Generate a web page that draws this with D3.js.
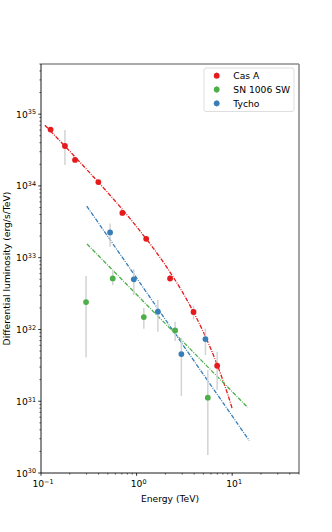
<!DOCTYPE html>
<html lang="en">
<head>
<meta charset="utf-8">
<script src="https://d3js.org/d3.v7.min.js"></script>
<style type="text/css">
body {
	margin: 0;
	background: white;
	font-family: "DejaVu Sans", sans-serif;
}
</style>
</head>
<body>
<script type="text/javascript">

// data
var series = ["Cas A", "SN 1006 SW", "Tycho"];

var casE  = [0.126, 0.178, 0.227, 0.398, 0.71, 1.26, 2.24, 3.94, 6.96];
var casL  = [6.1e34, 3.6e34, 2.3e34, 1.13e34, 4.2e33, 1.83e33, 5.15e32, 1.75e32, 3.12e31];
var casLo = [5.7e34, 1.95e34, 2.15e34, 1.06e34, 3.9e33, 1.7e33, 4.6e32, 1.38e32, 1.43e31];
var casHi = [6.5e34, 6.0e34, 2.45e34, 1.2e34, 4.5e33, 1.96e33, 5.7e32, 2.12e32, 4.9e31];

var snE  = [0.296, 0.563, 1.19, 2.53, 5.56];
var snL  = [2.41e32, 5.15e32, 1.49e32, 9.7e31, 1.12e31];
var snLo = [4.08e31, 4.15e32, 1.02e32, 6.9e31, 1.78e30];
var snHi = [5.55e32, 6.7e32, 1.99e32, 1.28e32, 2.72e31];

var tyE  = [0.528, 0.935, 1.67, 2.94, 5.25];
var tyL  = [2.25e33, 4.99e32, 1.77e32, 4.54e31, 7.35e31];
var tyLo = [1.42e33, 3.01e32, 9.3e31, 1.18e31, 4.4e31];
var tyHi = [3.0e33, 6.93e32, 2.57e32, 7.6e31, 1.03e32];

// fitted models as traced on the figure
var casFitE = [0.11, 0.15, 0.2, 0.3, 0.5, 0.7, 1, 1.5, 2, 3, 4, 5, 6, 7, 8, 9, 10];
var casFitL = [7.0e34, 4.55e34, 3.04e34, 1.70e34, 8.05e33, 4.81e33, 2.71e33, 1.35e33, 7.86e32,
               3.36e32, 1.68e32, 9.19e31, 5.31e31, 3.18e31, 1.96e31, 1.24e31, 7.92e30];
var snFitE = [0.303, 14.5];
var snFitL = [1.55e33, 8.2e30];
var tyFitE = [0.301, 15.1];
var tyFitL = [5.24e33, 2.82e30];

var xTicks = [0.1, 1, 10];
var yTicks = [1e30, 1e31, 1e32, 1e33, 1e34, 1e35];

var colors = ["#e41a1c", "#4daf4a", "#377eb8"];

var width = 332;
var height = 532;
var margin = {top: 64, right: 33, bottom: 59, left: 41};

var svg = d3.select("body")
	.append("svg")
	.attr("width", width)
	.attr("height", height);

var x = d3.scaleLog()
	.domain([0.1, 50])
	.range([margin.left, width - margin.right]);

var y = d3.scaleLog()
	.domain([1e30, 5e35])
	.range([height - margin.bottom, margin.top]);

var fontSize = 9.2;

// minor ticks
var xMinor = [];
[0.1, 1, 10].forEach(function(d) {
	for (var k = 2; k <= 9; k++) if (d * k <= 50) xMinor.push(d * k);
});
var yMinor = [];
[1e30, 1e31, 1e32, 1e33, 1e34, 1e35].forEach(function(d) {
	for (var k = 2; k <= 9; k++) if (d * k <= 5e35) yMinor.push(d * k);
});

var axisG = svg.append("g");

axisG.selectAll(".xminor")
	.data(xMinor)
	.enter()
	.append("line")
	.attr("x1", function(d) { return x(d); })
	.attr("x2", function(d) { return x(d); })
	.attr("y1", y(1e30))
	.attr("y2", y(1e30) + 1.6)
	.attr("stroke", "black")
	.attr("stroke-width", 0.6);

axisG.selectAll(".xmajor")
	.data(xTicks)
	.enter()
	.append("line")
	.attr("x1", function(d) { return x(d); })
	.attr("x2", function(d) { return x(d); })
	.attr("y1", y(1e30))
	.attr("y2", y(1e30) + 2.8)
	.attr("stroke", "black")
	.attr("stroke-width", 0.8);

axisG.selectAll(".yminor")
	.data(yMinor)
	.enter()
	.append("line")
	.attr("y1", function(d) { return y(d); })
	.attr("y2", function(d) { return y(d); })
	.attr("x1", x(0.1))
	.attr("x2", x(0.1) - 1.6)
	.attr("stroke", "black")
	.attr("stroke-width", 0.6);

axisG.selectAll(".ymajor")
	.data(yTicks)
	.enter()
	.append("line")
	.attr("y1", function(d) { return y(d); })
	.attr("y2", function(d) { return y(d); })
	.attr("x1", x(0.1))
	.attr("x2", x(0.1) - 2.8)
	.attr("stroke", "black")
	.attr("stroke-width", 0.8);

function expLabel(sel, d) {
	var e = Math.round(Math.log10(d));
	sel.append("tspan").text("10");
	sel.append("tspan")
		.attr("dy", "-0.5em")
		.style("font-size", (fontSize * 0.7) + "px")
		.text(e < 0 ? "\u2212" + (-e) : e);
}

axisG.selectAll(".xlab")
	.data(xTicks)
	.enter()
	.append("text")
	.attr("x", function(d) { return x(d) + 2; })
	.attr("y", y(1e30) + 14)
	.attr("text-anchor", "middle")
	.style("font-size", fontSize + "px")
	.each(function(d) { expLabel(d3.select(this), d); });

axisG.selectAll(".ylab")
	.data(yTicks)
	.enter()
	.append("text")
	.attr("x", x(0.1) - 5)
	.attr("y", function(d) { return y(d) + 3.5; })
	.attr("text-anchor", "end")
	.style("font-size", fontSize + "px")
	.each(function(d) { expLabel(d3.select(this), d); });

svg.append("text")
	.attr("x", (x(0.1) + x(50)) / 2)
	.attr("y", y(1e30) + 29)
	.attr("text-anchor", "middle")
	.style("font-size", fontSize + "px")
	.text("Energy (TeV)");

svg.append("text")
	.attr("transform", "translate(" + 10 + "," + ((y(1e30) + y(5e35)) / 2) + ") rotate(-90)")
	.attr("text-anchor", "middle")
	.style("font-size", fontSize + "px")
	.text("Differential luminosity (erg/s/TeV)");

// spines
svg.append("line")
	.attr("x1", x(0.1)).attr("x2", x(50))
	.attr("y1", y(5e35)).attr("y2", y(5e35))
	.attr("stroke", "#8c8c8c").attr("stroke-width", 1.6);
svg.append("line")
	.attr("x1", x(50)).attr("x2", x(50))
	.attr("y1", y(5e35)).attr("y2", y(1e30))
	.attr("stroke", "#8c8c8c").attr("stroke-width", 1.6);
svg.append("line")
	.attr("x1", x(0.1)).attr("x2", x(0.1))
	.attr("y1", y(5e35)).attr("y2", y(1e30))
	.attr("stroke", "black").attr("stroke-width", 0.9);
svg.append("line")
	.attr("x1", x(0.1)).attr("x2", x(50))
	.attr("y1", y(1e30)).attr("y2", y(1e30))
	.attr("stroke", "black").attr("stroke-width", 0.9);

// fit lines
var fits = [
	{e: casFitE, l: casFitL, c: colors[0]},
	{e: snFitE, l: snFitL, c: colors[1]},
	{e: tyFitE, l: tyFitL, c: colors[2]}
];

fits.forEach(function(f) {
	var pts = f.e.map(function(v, i) { return [v, f.l[i]]; });
	svg.append("path")
		.attr("d", d3.line()
			.x(function(d) { return x(d[0]); })
			.y(function(d) { return y(d[1]); })
			.curve(d3.curveMonotoneX)(pts))
		.attr("fill", "none")
		.attr("stroke", f.c)
		.attr("stroke-width", 1.3)
		.attr("stroke-dasharray", "4.2,1.3,0.9,1.3");
});

// points with error bars
var sets = [
	{e: casE, l: casL, lo: casLo, hi: casHi, c: colors[0]},
	{e: snE, l: snL, lo: snLo, hi: snHi, c: colors[1]},
	{e: tyE, l: tyL, lo: tyLo, hi: tyHi, c: colors[2]}
];

sets.forEach(function(s) {
	var g = svg.append("g");
	var pts = s.e.map(function(v, i) { return {e: v, l: s.l[i], lo: s.lo[i], hi: s.hi[i]}; });
	g.selectAll("line")
		.data(pts)
		.enter()
		.append("line")
		.attr("x1", function(d) { return x(d.e); })
		.attr("x2", function(d) { return x(d.e); })
		.attr("y1", function(d) { return y(d.lo); })
		.attr("y2", function(d) { return y(d.hi); })
		.attr("stroke", "#d3d3d3")
		.attr("stroke-width", 1.5);
	g.selectAll("circle")
		.data(pts)
		.enter()
		.append("circle")
		.attr("cx", function(d) { return x(d.e); })
		.attr("cy", function(d) { return y(d.l); })
		.attr("r", 2.9)
		.attr("fill", s.c);
});

// legend
var legend = svg.append("g")
	.attr("transform", "translate(204,68)");

legend.append("rect")
	.attr("width", 90)
	.attr("height", 43.5)
	.attr("rx", 2)
	.attr("fill", "white")
	.attr("stroke", "#d6d6d6")
	.attr("stroke-width", 0.8);

var rows = legend.selectAll(".row")
	.data(series)
	.enter()
	.append("g")
	.attr("transform", function(d, i) { return "translate(0," + (7.7 + i * 13.8) + ")"; });

rows.append("line")
	.attr("x1", 12.7).attr("x2", 12.7)
	.attr("y1", -3.5).attr("y2", 3.5)
	.attr("stroke", "#d3d3d3")
	.attr("stroke-width", 1.5);

rows.append("circle")
	.attr("cx", 12.7)
	.attr("cy", 0)
	.attr("r", 2.9)
	.attr("fill", function(d, i) { return colors[i]; });

rows.append("text")
	.attr("x", 29.3)
	.attr("y", 3.3)
	.style("font-size", fontSize + "px")
	.text(function(d) { return d; });

</script>
</body>
</html>
